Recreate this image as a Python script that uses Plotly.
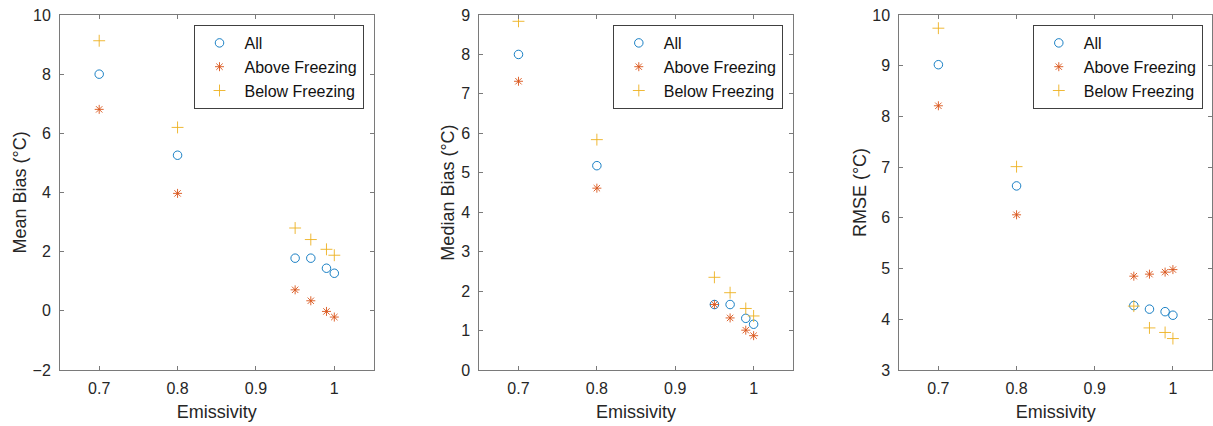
import plotly.graph_objects as go

emissivity = [0.7, 0.8, 0.95, 0.97, 0.99, 1.0]

mean_all = [8.00, 5.26, 1.78, 1.78, 1.44, 1.27]
mean_above = [6.81, 3.97, 0.71, 0.34, -0.02, -0.21]
mean_below = [9.13, 6.20, 2.80, 2.41, 2.08, 1.88]

median_all = [8.00, 5.18, 1.66, 1.66, 1.31, 1.16]
median_above = [7.32, 4.61, 1.66, 1.32, 1.01, 0.87]
median_below = [8.84, 5.84, 2.35, 1.96, 1.56, 1.37]

rmse_all = [9.02, 6.63, 4.27, 4.20, 4.15, 4.08]
rmse_above = [8.21, 6.06, 4.85, 4.89, 4.93, 4.98]
rmse_below = [9.74, 7.01, 4.26, 3.83, 3.74, 3.62]

series_names = ["All", "Above Freezing", "Below Freezing"]
y_titles = ["Mean Bias (°C)", "Median Bias (°C)", "RMSE (°C)"]
x_title = "Emissivity"
x_tickvals = [0.7, 0.8, 0.9, 1.0]
x_ticktext = ["0.7", "0.8", "0.9", "1"]

panels = [
    (mean_all, mean_above, mean_below),
    (median_all, median_above, median_below),
    (rmse_all, rmse_above, rmse_below),
]
y_ranges = [[-2, 10], [0, 9], [3, 10]]
y_dticks = [2, 1, 1]

colors = ["#0072BD", "#D95319", "#EDB120"]
symbols = ["circle-open", "asterisk-open", "cross-thin-open"]
sizes = [8.5, 7.5, 8.5]

FONT = "Liberation Sans, Arial, Helvetica, sans-serif"
TXT = "#262626"
AXC = "#7a7a7a"

W, H = 1213, 426
ML, MR, MT, MB = 60, 1, 15, 56
PW = W - ML - MR
lefts = [60, 479.3, 899.3]
pwidth = 313.5
domains = [[(l - ML) / PW, min(1.0, (l - ML + pwidth) / PW)] for l in lefts]

fig = go.Figure()
legend_names = ["legend", "legend2", "legend3"]
for i, data in enumerate(panels):
    xa = "x" if i == 0 else f"x{i+1}"
    ya = "y" if i == 0 else f"y{i+1}"
    for j, vals in enumerate(data):
        fig.add_trace(go.Scatter(
            x=emissivity, y=vals, mode="markers", name=series_names[j],
            xaxis=xa, yaxis=ya, legend=legend_names[i],
            marker=dict(symbol=symbols[j], size=sizes[j], color=colors[j],
                        line=dict(width=0.9, color=colors[j])),
        ))

layout = dict(
    width=W, height=H,
    margin=dict(l=ML, r=MR, t=MT, b=MB),
    paper_bgcolor="white", plot_bgcolor="white",
    font=dict(family=FONT, size=16, color=TXT),
)
for i in range(3):
    sx = "" if i == 0 else str(i + 1)
    layout[f"xaxis{sx}"] = dict(
        domain=domains[i], range=[0.65, 1.05], anchor=f"y{sx}",
        tickvals=x_tickvals, ticktext=x_ticktext,
        showline=True, linecolor=AXC, linewidth=1, mirror="ticks",
        ticks="inside", ticklen=4, tickcolor=AXC, showgrid=False, zeroline=False,
        tickfont=dict(size=16, color=TXT), ticklabelstandoff=4,
        title=dict(text=x_title, font=dict(size=18, color=TXT), standoff=9),
    )
    layout[f"yaxis{sx}"] = dict(
        domain=[0, 1], range=y_ranges[i], dtick=y_dticks[i], anchor=f"x{sx}",
        showline=True, linecolor=AXC, linewidth=1, mirror="ticks",
        ticks="inside", ticklen=4, tickcolor=AXC, showgrid=False, zeroline=False,
        tickfont=dict(size=16, color=TXT), ticklabelstandoff=5,
        title=dict(text=y_titles[i], font=dict(size=18, color=TXT), standoff=1),
    )
    legend_right_px = lefts[i] + pwidth - 10
    layout[legend_names[i]] = dict(
        x=(legend_right_px - ML) / PW, xanchor="right",
        y=1 - 10 / (H - MT - MB), yanchor="top",
        bgcolor="white", bordercolor="#404040", borderwidth=1,
        font=dict(family=FONT, size=16, color="#111111"),
        tracegroupgap=0, itemwidth=40,
    )
fig.update_layout(**layout)
fig.write_html("out.html", config={"displayModeBar": False},
               post_script="document.body.style.margin='0';")
